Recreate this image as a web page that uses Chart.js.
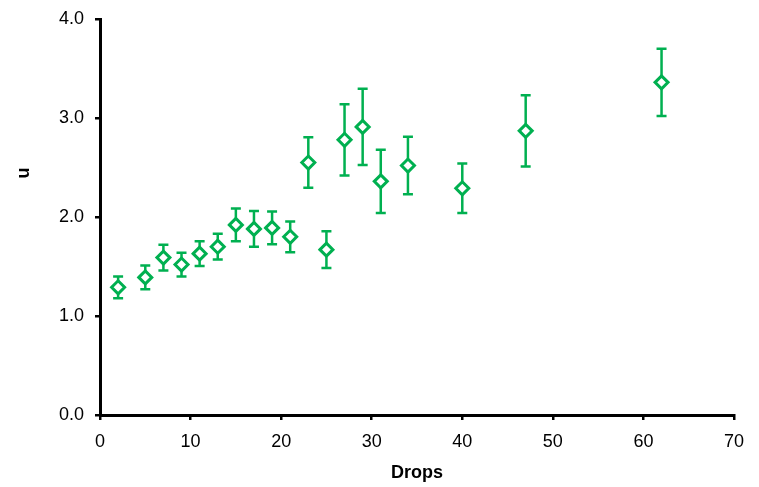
<!DOCTYPE html>
<html>
<head>
<meta charset="utf-8">
<script src="https://cdn.jsdelivr.net/npm/chart.js@4/dist/chart.umd.min.js"></script>
<style>
  html, body { margin: 0; padding: 0; background: #fff; }
  #wrap { width: 759px; height: 487px; }
</style>
</head>
<body>
<div id="wrap"><canvas id="c" width="759" height="487"></canvas></div>
<script>
// Mean u per number of drops, with symmetric error (±)
const drops = [2, 5, 7, 9, 11, 13, 15, 17, 19, 21, 23, 25, 27, 29, 31, 34, 40, 47, 62];
const uMean = [1.29, 1.39, 1.59, 1.52, 1.63, 1.70, 1.92, 1.88, 1.89, 1.80, 2.55, 1.67, 2.78, 2.91, 2.36, 2.52, 2.29, 2.87, 3.36];
const uErr  = [0.11, 0.12, 0.13, 0.12, 0.125, 0.13, 0.165, 0.18, 0.165, 0.155, 0.255, 0.185, 0.36, 0.385, 0.32, 0.29, 0.25, 0.36, 0.34];

const xTitle = 'Drops';
const yTitle = 'u';

const GREEN = '#00B050';
const FONT = '"Liberation Sans", Arial, sans-serif';

const points = drops.map((d, i) => ({ x: d, y: uMean[i], err: uErr[i] }));

// Vertical error bars with end caps, drawn beneath the markers
const errorBars = {
  id: 'errorBars',
  beforeDatasetsDraw(chart) {
    const { ctx, scales: { x, y } } = chart;
    ctx.save();
    ctx.strokeStyle = GREEN;
    ctx.lineWidth = 2.5;
    const cap = 5;
    chart.data.datasets[0].data.forEach(p => {
      const px = x.getPixelForValue(p.x);
      const top = y.getPixelForValue(p.y + p.err);
      const bot = y.getPixelForValue(p.y - p.err);
      ctx.beginPath();
      ctx.moveTo(px, top); ctx.lineTo(px, bot);
      ctx.moveTo(px - cap, top); ctx.lineTo(px + cap, top);
      ctx.moveTo(px - cap, bot); ctx.lineTo(px + cap, bot);
      ctx.stroke();
    });
    ctx.restore();
  }
};

// Axis titles
const axisTitles = {
  id: 'axisTitles',
  afterDraw(chart) {
    const { ctx, chartArea } = chart;
    ctx.save();
    ctx.fillStyle = '#000';
    ctx.font = 'bold 18px ' + FONT;
    ctx.textAlign = 'center';
    ctx.textBaseline = 'middle';
    ctx.fillText(xTitle, (chartArea.left + chartArea.right) / 2, 473);
    ctx.translate(24, 173);
    ctx.rotate(-Math.PI / 2);
    ctx.fillText(yTitle, 0, 0);
    ctx.restore();
  }
};

new Chart(document.getElementById('c'), {
  type: 'scatter',
  data: {
    datasets: [{
      data: points,
      pointStyle: 'rectRot',
      pointRadius: 6.5,
      pointHoverRadius: 6.5,
      pointBorderWidth: 3,
      pointBorderColor: GREEN,
      pointBackgroundColor: '#fff',
      showLine: false
    }]
  },
  options: {
    responsive: false,
    animation: false,
    devicePixelRatio: 1,
    layout: { padding: { top: 19, right: 25, left: 0, bottom: 0 } },
    plugins: { legend: { display: false }, tooltip: { enabled: false } },
    scales: {
      x: {
        type: 'linear',
        min: 0, max: 70,
        ticks: { stepSize: 10, color: '#000', font: { family: FONT, size: 18 }, padding: 11, maxRotation: 0 },
        grid: { drawOnChartArea: false, drawTicks: true, tickLength: 5, color: '#000', lineWidth: 2.5 },
        border: { display: true, color: '#000', width: 3 },
        afterFit(scale) { scale.height = 72; scale.paddingLeft = 0; scale.paddingRight = 0; }
      },
      y: {
        type: 'linear',
        min: 0, max: 4,
        ticks: { stepSize: 1, color: '#000', font: { family: FONT, size: 18 }, padding: 11,
                 callback: v => v.toFixed(1) },
        grid: { drawOnChartArea: false, drawTicks: true, tickLength: 5, color: '#000', lineWidth: 2.5 },
        border: { display: true, color: '#000', width: 3 },
        afterFit(scale) { scale.width = 100; scale.paddingTop = 0; scale.paddingBottom = 0; }
      }
    }
  },
  plugins: [errorBars, axisTitles]
});
</script>
</body>
</html>
